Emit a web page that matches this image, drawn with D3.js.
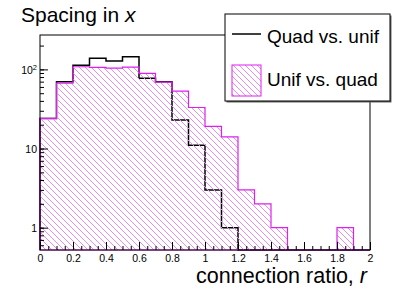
<!DOCTYPE html>
<html>
<head>
<meta charset="utf-8">
<script src="https://cdn.jsdelivr.net/npm/d3@7"></script>
<style>
  body { margin: 0; background: #fff; }
  text { font-family: "Liberation Sans", Arial, sans-serif; fill: #000; }
</style>
</head>
<body>
<div id="chart"></div>
<script>
// bin lower edges (width 0.1) and counts per bin
var binStarts = [0, 0.1, 0.2, 0.3, 0.4, 0.5, 0.6, 0.7, 0.8, 0.9, 1.0, 1.1, 1.2, 1.3, 1.4, 1.5, 1.6, 1.7, 1.8, 1.9];
var quadVsUnif = [24, 70, 113, 138, 128, 144, 77, 70, 23, 11, 3, 1, 0, 0, 0, 0, 0, 0, 0, 0];
var unifVsQuad = [24, 67, 108, 106, 104, 107, 89, 69, 53, 33, 19, 14, 3, 2, 1, 0, 0, 0, 1, 0];
var binWidth = 0.1;
var xTickLabels = ["0", "0.2", "0.4", "0.6", "0.8", "1", "1.2", "1.4", "1.6", "1.8", "2"];
var yTickValues = [1, 10, 100];

var width = 411, height = 295;
var frameLeft = 40, frameRight = 370, frameTop = 35, frameBottom = 250;
var magenta = "#e01ef0";

var svg = d3.select("#chart").append("svg")
    .attr("width", width)
    .attr("height", height);

var x = d3.scaleLinear().domain([0, 2]).range([frameLeft, frameRight]);
var y = d3.scaleLog().domain([0.522, 272]).range([frameBottom, frameTop]);

// hatch pattern
svg.append("defs").append("pattern")
    .attr("id", "hatch")
    .attr("patternUnits", "userSpaceOnUse")
    .attr("width", 6).attr("height", 6)
    .append("path")
    .attr("d", "M-1,-1L7,7M-1,5L1,7M5,-1L7,1")
    .attr("stroke", "#e48ef0")
    .attr("stroke-width", 1);

// step outline of a histogram, zero bins sit on the bottom of the frame
function stepPath(values) {
    var yv = function(v) { return v > 0 ? y(v) : frameBottom; };
    var p = d3.path();
    p.moveTo(x(binStarts[0]), frameBottom);
    values.forEach(function(v, i) {
        p.lineTo(x(binStarts[i]), yv(v));
        p.lineTo(x(binStarts[i] + binWidth), yv(v));
    });
    p.lineTo(x(binStarts[binStarts.length - 1] + binWidth), frameBottom);
    return p.toString();
}

// Quad vs. unif (black line)
svg.append("path")
    .attr("d", stepPath(quadVsUnif))
    .attr("fill", "none")
    .attr("stroke", "#000")
    .attr("stroke-width", 1.5);

// Unif vs. quad (hatched)
svg.append("path")
    .attr("d", stepPath(unifVsQuad) + "Z")
    .attr("fill", "url(#hatch)")
    .attr("stroke", magenta)
    .attr("stroke-width", 1.2);

// frame
svg.append("rect")
    .attr("x", frameLeft).attr("y", frameTop)
    .attr("width", frameRight - frameLeft).attr("height", frameBottom - frameTop)
    .attr("fill", "none")
    .attr("stroke", "#000")
    .attr("stroke-width", 1);

// x axis ticks (inward)
var xMinor = svg.append("g").attr("transform", "translate(0," + frameBottom + ")")
    .call(d3.axisBottom(x).tickValues(d3.range(0, 2.001, 0.05)).tickSize(-4).tickFormat(""));
var xMajor = svg.append("g").attr("transform", "translate(0," + frameBottom + ")")
    .call(d3.axisBottom(x).tickValues(d3.range(0, 2.001, 0.2)).tickSize(-8)
        .tickFormat(function(d, i) { return xTickLabels[i]; }));
[xMinor, xMajor].forEach(function(g) {
    g.select(".domain").remove();
    g.selectAll("line").attr("stroke", "#000").attr("stroke-width", 1);
});
xMajor.selectAll("text")
    .attr("y", 5)
    .attr("font-size", "10.5px");

// y axis ticks (inward, log)
var yMinor = svg.append("g").attr("transform", "translate(" + frameLeft + ",0)")
    .call(d3.axisLeft(y).tickValues(y.ticks().filter(function(d) { return d < 272; })).tickSize(-4).tickFormat(""));
var yMajor = svg.append("g").attr("transform", "translate(" + frameLeft + ",0)")
    .call(d3.axisLeft(y).tickValues(yTickValues).tickSize(-8).tickFormat(""));
[yMinor, yMajor].forEach(function(g) {
    g.select(".domain").remove();
    g.selectAll("line").attr("stroke", "#000").attr("stroke-width", 1);
});
yMajor.selectAll(".tick").append("text")
    .attr("x", -3)
    .attr("dy", "0.35em")
    .attr("text-anchor", "end")
    .attr("font-size", "10.5px")
    .each(function(d) {
        var t = d3.select(this);
        if (d >= 100) {
            t.append("tspan").text("10");
            t.append("tspan").attr("dy", "-0.45em").attr("font-size", "7.5px").text(Math.round(Math.log10(d)));
        } else {
            t.text(d);
        }
    });

// title
var title = svg.append("text")
    .attr("x", 21).attr("y", 22)
    .attr("font-size", "21px");
title.append("tspan").text("Spacing in ");
title.append("tspan").attr("font-style", "italic").text("x");

// x axis title
var xTitle = svg.append("text")
    .attr("x", 367).attr("y", 283)
    .attr("text-anchor", "end")
    .attr("font-size", "21.5px");
xTitle.append("tspan").text("connection ratio, ");
xTitle.append("tspan").attr("font-style", "italic").text("r");

// legend with shadow
var lg = { x: 225, y: 14, w: 165, h: 87 };
svg.append("rect")
    .attr("x", lg.x + 1.5).attr("y", lg.y + 1.5)
    .attr("width", lg.w).attr("height", lg.h)
    .attr("fill", "#666");
svg.append("rect")
    .attr("x", lg.x).attr("y", lg.y)
    .attr("width", lg.w).attr("height", lg.h)
    .attr("fill", "#fff")
    .attr("stroke", "#000")
    .attr("stroke-width", 1);

svg.append("line")
    .attr("x1", 232).attr("x2", 261)
    .attr("y1", 34).attr("y2", 34)
    .attr("stroke", "#000").attr("stroke-width", 1.5);
svg.append("text")
    .attr("x", 267).attr("y", 43)
    .attr("font-size", "19px")
    .text("Quad vs. unif");

svg.append("rect")
    .attr("x", 232).attr("y", 65)
    .attr("width", 29).attr("height", 31)
    .attr("fill", "url(#hatch)")
    .attr("stroke", magenta)
    .attr("stroke-width", 1);
svg.append("text")
    .attr("x", 267).attr("y", 86)
    .attr("font-size", "19px")
    .text("Unif vs. quad");
</script>
</body>
</html>
